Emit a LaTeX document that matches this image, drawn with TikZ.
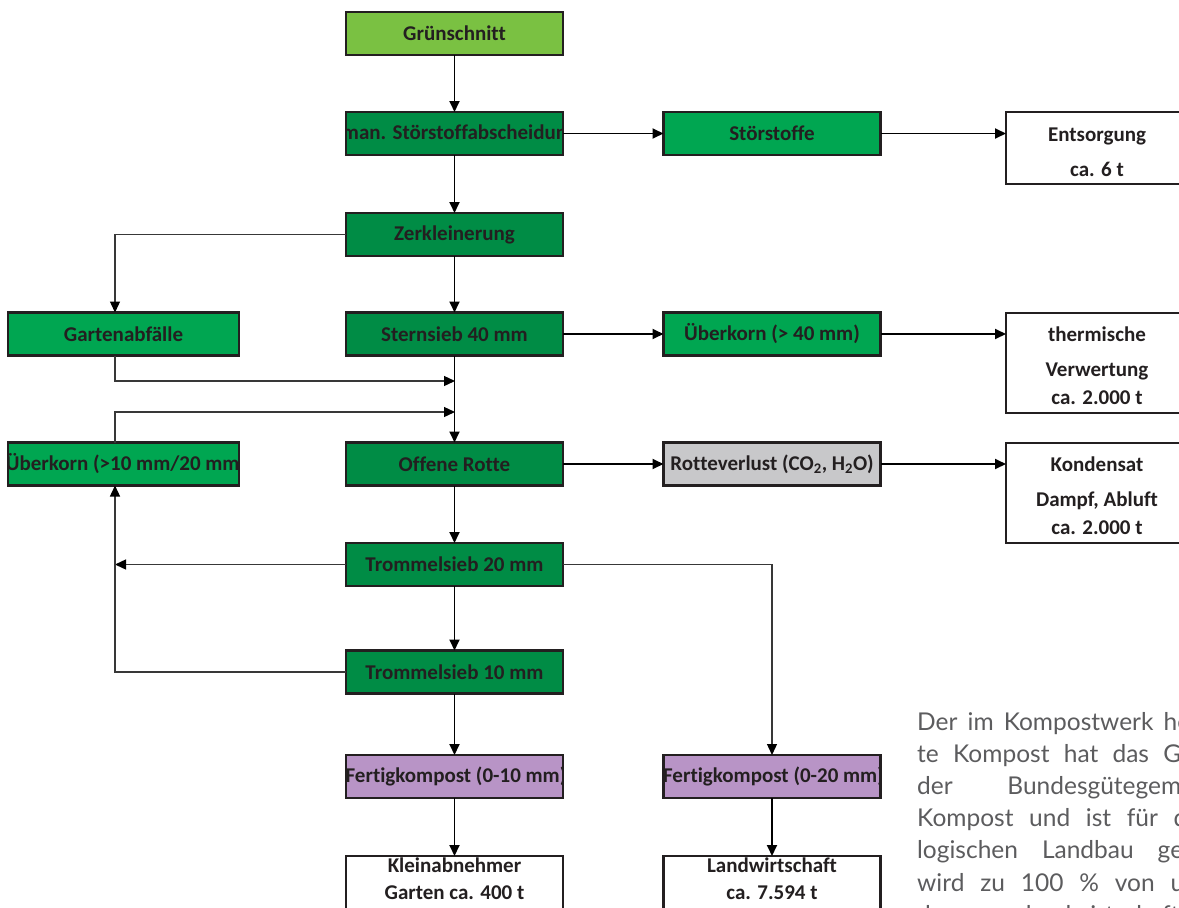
\documentclass[tikz,border=0pt]{standalone}
\usepackage{fontspec}
\setmainfont{Carlito}[Ligatures=NoCommon]
\newfontfamily\parafont{Lato}[Ligatures=NoCommon]
\usetikzlibrary{arrows.meta,calc}
\definecolor{lgreen}{RGB}{122,193,66}
\definecolor{dgreen}{RGB}{0,140,69}
\definecolor{mgreen}{RGB}{0,166,81}
\definecolor{lgray}{RGB}{200,200,202}
\definecolor{lpurple}{RGB}{184,148,198}
\definecolor{ink}{RGB}{35,31,32}
\definecolor{paragray}{RGB}{92,92,94}
\newcommand\procbox[6]{%
  \node[pbox, minimum width=#4pt, fill=#5,
    path picture={\node[boxfont] (#1-t) at (path picture bounding box.center) {#6};}]
    (#1) at (#2,#3) {};}
\begin{document}
\begin{tikzpicture}[x=1pt,y=-1pt,
  boxfont/.style={font=\fontsize{21}{24}\selectfont\bfseries, text=ink, inner sep=0pt},
  pbox/.style={draw=ink, line width=2.4pt, minimum height=43pt, inner sep=0pt, outer sep=0pt},
  wbox/.style={draw=ink, line width=2.4pt, fill=white, inner sep=0pt, outer sep=0pt},
  para/.style={font=\parafont\fontsize{24.5}{32}\selectfont, text=paragray, inner sep=0pt, anchor=base west},
  tip/.style={-{Triangle[length=11pt,width=10pt,color=black]}},
  flow/.style={tip, line width=1.8pt, draw=black},
  thin/.style={tip, line width=1.3pt, draw=black!78}
]
\useasboundingbox (0,0) rectangle (1179,908);
\clip (0,0) rectangle (1179,908);

% main column
\procbox{gruen}{454.5}{33.5}{217}{lgreen}{Grünschnitt}
\procbox{stoer}{454.5}{133.5}{217}{dgreen}{\hspace*{10pt}man. Störstoffabscheidung}
\procbox{zerk}{454.5}{234.5}{217}{dgreen}{Zerkleinerung}
\procbox{stern}{454.5}{334}{217}{dgreen}{Sternsieb 40 mm}
\procbox{rotte}{454.5}{464}{217}{dgreen}{Offene Rotte}
\procbox{tr20}{454.5}{564.5}{217}{dgreen}{Trommelsieb 20 mm}
\procbox{tr10}{454.5}{672}{217}{dgreen}{Trommelsieb 10 mm}
\procbox{fk10}{454.5}{776.5}{217}{lpurple}{\hspace*{3pt}Fertigkompost (0-10 mm)}

% left column
\procbox{garten}{123.5}{334}{231}{mgreen}{Gartenabfälle}
\procbox{ueb10}{123.5}{464}{231}{mgreen}{\hspace*{5pt}Überkorn (>10 mm/20 mm)}

% second column
\procbox{stst}{772}{133.5}{217}{mgreen}{Störstoffe}
\procbox{ueb40}{772}{334}{217}{mgreen}{Überkorn (> 40 mm)}
\procbox{rverl}{772}{464}{217}{lgray}{Rotteverlust (CO\textsubscript{2}, H\textsubscript{2}O)}
\procbox{fk20}{772}{776.5}{217}{lpurple}{\hspace*{3pt}Fertigkompost (0-20 mm)}

% white boxes right
\node[wbox, minimum width=182pt, minimum height=72pt] (ents) at (1097,148) {};
\node[boxfont, anchor=base] (ents-a) at (1097,141) {Entsorgung};
\node[boxfont, anchor=base] (ents-b) at (1097,176) {ca. 6 t};
\node[wbox, minimum width=182pt, minimum height=100pt] (therm) at (1097,363) {};
\node[boxfont, anchor=base] (therm-a) at (1097,341) {thermische};
\node[boxfont, anchor=base] (therm-b) at (1097,376) {Verwertung};
\node[boxfont, anchor=base] (therm-c) at (1097,404) {ca. 2.000 t};
\node[wbox, minimum width=182pt, minimum height=100pt] (kond) at (1097,493) {};
\node[boxfont, anchor=base] (kond-a) at (1097,471) {Kondensat};
\node[boxfont, anchor=base] (kond-b) at (1097,506) {Dampf, Abluft};
\node[boxfont, anchor=base] (kond-c) at (1097,534) {ca. 2.000 t};

% white boxes bottom
\node[wbox, minimum width=217pt, minimum height=60pt] (klein) at (454.5,886) {};
\node[boxfont, anchor=base] (klein-a) at (454.5,872) {Kleinabnehmer};
\node[boxfont, anchor=base] (klein-b) at (454.5,899) {Garten ca. 400 t};
\node[wbox, minimum width=217pt, minimum height=60pt] (land) at (772,886) {};
\node[boxfont, anchor=base] (land-a) at (772,872) {Landwirtschaft};
\node[boxfont, anchor=base] (land-b) at (772,899) {ca. 7.594 t};

% helper coordinates
\coordinate (gx) at (115,0);
\coordinate (j1) at (455,381);
\coordinate (j2) at (455,412);

% connectors
\draw[flow] (gruen) -- (stoer);
\draw[flow] (stoer) -- (stst);
\draw[flow] (stst) -- (stst.east -| ents.west);
\draw[flow] (stoer) -- (zerk);
\draw[thin] (zerk.west) -| (gx |- garten.north);
\draw[flow] (zerk) -- (stern);
\draw[flow] (stern) -- (ueb40);
\draw[flow] (ueb40.east) -- (ueb40.east -| therm.west);
\draw[flow] (stern) -- (rotte);
\draw[thin] (gx |- garten.south) |- (j1);
\draw[thin] (gx |- ueb10.north) |- (j2);
\draw[flow] (rotte) -- (rverl);
\draw[flow] (rverl.east) -- (rverl.east -| kond.west);
\draw[flow] (rotte) -- (tr20);
\draw[thin] (tr20.west) -- (gx |- tr20.west);
\draw[thin] (tr10.west) -| (gx |- ueb10.south);
\draw[thin] (tr20.east) -| (fk20.north);
\draw[flow] (tr20) -- (tr10);
\draw[flow] (tr10) -- (fk10);
\draw[flow] (fk10) -- (klein);
\draw[flow] (fk20) -- (land);

% paragraph (cut at the right edge)
\node[para] (p1) at (917,730) {\makebox[273pt][s]{Der im Kompostwerk he}};
\node[para] (p2) at (917,762) {\makebox[264pt][s]{te Kompost hat das G}};
\node[para] (p3) at (917,794) {\makebox[264pt][s]{der Bundesgütegem}};
\node[para] (p4) at (917,826) {\makebox[270pt][s]{Kompost und ist für d}};
\node[para] (p5) at (917,858) {\makebox[266pt][s]{logischen Landbau ge}};
\node[para] (p6) at (917,891) {\makebox[267pt][s]{wird zu 100 \% von u}};
\node[para] (p7) at (917,923) {\makebox[268pt][s]{den landwirtschaftl}};
\end{tikzpicture}
\end{document}
